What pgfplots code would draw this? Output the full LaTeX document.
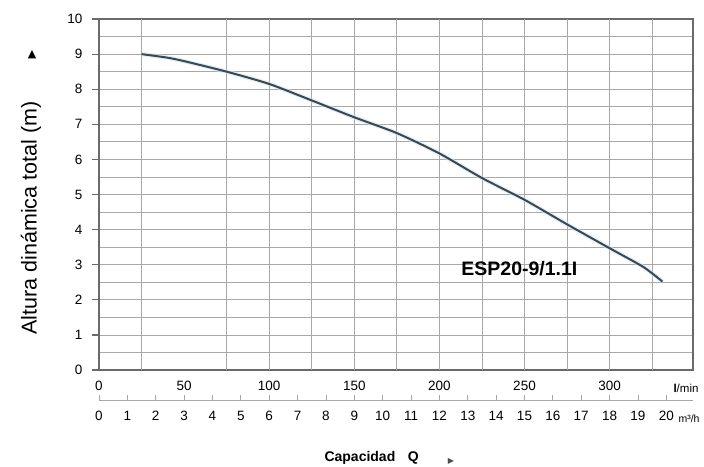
\documentclass[border=0pt]{standalone}
\usepackage{pgfplots}
\pgfplotsset{compat=1.18}
\usepackage{fontspec}
\setmainfont{Liberation Sans}
\newfontfamily\symfont{DejaVu Sans}
\definecolor{gridc}{HTML}{A8A8A8}
\definecolor{framec}{HTML}{6A6A6A}
\definecolor{curvec}{HTML}{3B4852}
\definecolor{haloc}{HTML}{CFE6F2}
\pgfplotstableread{
x y
25 9.00
40 8.90
50 8.80
75 8.50
100 8.15
125 7.68
150 7.20
175 6.75
200 6.17
225 5.47
250 4.85
275 4.15
300 3.47
320 2.93
331 2.52
}\curve
\begin{document}
\begin{tikzpicture}
\path[use as bounding box] (0,0) rectangle (704pt,-466pt);
\begin{axis}[
  at={(99pt,-370pt)}, anchor=south west, scale only axis,
  width=594pt, height=351pt,
  xmin=0, xmax=349, ymin=0, ymax=10,
  xtick={0,50,...,300}, ytick={0,...,10},
  minor ytick={0.5,1.5,...,9.5},
  ymajorgrids, yminorgrids,
  extra x ticks={25,75,100,125,150,175,200,225,250,275,300,325},
  extra x tick labels={},
  extra x tick style={grid=major, major tick length=0pt},
  grid style={gridc, line width=0.8pt},
  minor grid style={gridc, line width=0.8pt},
  axis line style={framec, line width=1.6pt},
  xtick style={draw=none},
  ytick pos=left,
  tick align=outside,
  major tick length=7pt, minor tick length=0pt,
  ytick style={framec, line width=1.2pt},
  /pgf/number format/assume math mode=true,
  xticklabel style={font=\fontsize{13.5}{15}\selectfont, yshift=-1pt},
  yticklabel style={font=\fontsize{13.5}{15}\selectfont, xshift=-6pt},
]
\addplot[haloc, line width=4.5pt, opacity=0.6, smooth, tension=0.4] table {\curve};
\addplot[curvec, line width=2pt, smooth, tension=0.4] table {\curve};
\node[font=\fontsize{19.5}{21}\selectfont\bfseries] at (axis cs:247,2.9) {ESP20-9/1.1I};
\end{axis}
\begin{axis}[
  at={(99pt,-400pt)}, anchor=south west, scale only axis,
  width=594pt, height=1pt,
  xmin=0, xmax=20.94, ymin=0, ymax=1,
  hide y axis, axis x line*=bottom,
  x axis line style={-, gridc, line width=1pt},
  xtick={0,...,20},
  tick align=inside, major tick length=5pt,
  xtick style={gridc, line width=0.8pt},
  /pgf/number format/assume math mode=true,
  xticklabel style={font=\fontsize{13.5}{15}\selectfont, yshift=-8pt},
]
\addplot[draw=none] coordinates {(0,0)};
\end{axis}
\node[anchor=west, font=\fontsize{11.5}{12}\selectfont] at (670pt,-388pt) {\textbf{l}/min};
\node[anchor=west, font=\fontsize{10.5}{12}\selectfont] at (675pt,-419pt) {m³/h};
\node[rotate=90, font=\fontsize{21.5}{24}\selectfont] at (31pt,-218pt) {Altura dinámica total (m)};
\node[font=\fontsize{11}{12}\selectfont\symfont] at (32pt,-55pt) {▲};
\node[anchor=west, font=\fontsize{14}{16}\selectfont\bfseries] at (321pt,-458pt) {Capacidad\hspace{0.9em}Q};
\node[font=\fontsize{8}{10}\selectfont\symfont, text=black!70] at (451pt,-461pt) {▶};
\end{tikzpicture}
\end{document}
